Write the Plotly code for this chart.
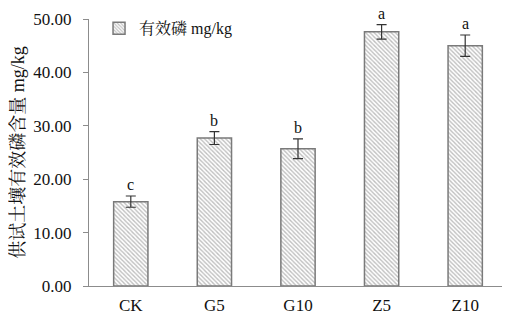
import plotly.graph_objects as go

categories = ["CK", "G5", "G10", "Z5", "Z10"]
values = [15.8, 27.7, 25.7, 47.6, 45.0]
errors = [1.05, 1.2, 1.85, 1.35, 2.0]
letters = ["c", "b", "b", "a", "a"]
y_ticks = [0, 10, 20, 30, 40, 50]
y_tick_labels = ["0.00", "10.00", "20.00", "30.00", "40.00", "50.00"]

serif = "Liberation Serif, Times New Roman, Noto Serif CJK SC, Noto Sans CJK SC, serif"

fig = go.Figure()
fig.add_trace(go.Bar(
    x=categories, y=values, name="有效磷 mg/kg",
    width=0.41,
    marker=dict(
        color="white",
        line=dict(color="#7a7a7a", width=1.5),
        pattern=dict(shape="\\", fgcolor="#808080", bgcolor="white", size=3, solidity=0.45),
    ),
    error_y=dict(type="data", array=errors, visible=True, color="#333333", thickness=1.2, width=5),
))

for c, v, e, l in zip(categories, values, errors, letters):
    fig.add_annotation(x=c, y=v + e, text=l, showarrow=False, yanchor="bottom", yshift=2,
                       borderpad=0, font=dict(family=serif, size=16, color="#111111"))

# the page body adds an 8px margin, so the figure is sized to fit the 510x314 window
fig.update_layout(
    width=502, height=306,
    margin=dict(l=81, r=3, t=3, b=28),
    plot_bgcolor="white", paper_bgcolor="white",
    font=dict(family=serif, size=16, color="#111111"),
    showlegend=True,
    legend=dict(x=0.024, y=0.965, xanchor="left", yanchor="middle", bgcolor="rgba(0,0,0,0)",
                font=dict(family=serif, size=16), itemwidth=30),
)
fig.update_xaxes(showline=True, linecolor="#8c8c8c", linewidth=1, ticks="", showgrid=False,
                 tickfont=dict(family=serif, size=17), automargin=False, ticklabelstandoff=4)
fig.update_yaxes(range=[0, 50], tickvals=y_ticks, ticktext=y_tick_labels, showline=True,
                 linecolor="#8c8c8c", linewidth=1, ticks="outside", ticklen=5, tickcolor="#8c8c8c",
                 showgrid=False, zeroline=False, tickfont=dict(family=serif, size=17), automargin=False,
                 ticklabelstandoff=8,
                 title=dict(text="供试土壤有效磷含量 mg/kg", font=dict(family=serif, size=18), standoff=12))

fig.write_html("out.html")
